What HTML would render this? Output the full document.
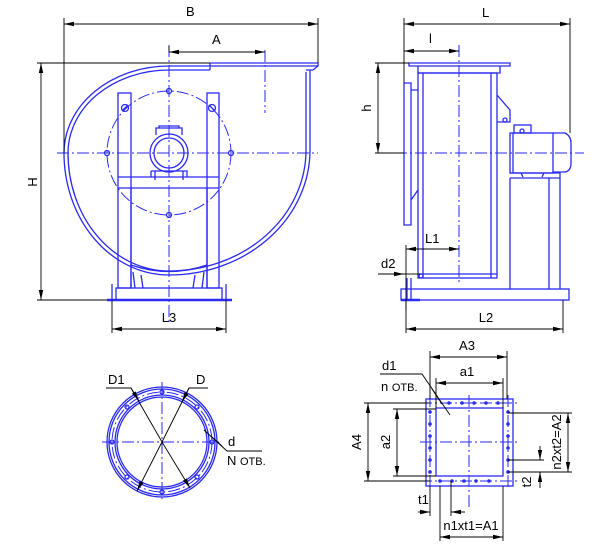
<!DOCTYPE html>
<html><head><meta charset="utf-8"><style>
html,body{margin:0;padding:0;background:#fff;}
svg{display:block;}
text{font-family:"Liberation Sans","DejaVu Sans",sans-serif;font-size:13px;fill:#000;}
.b{stroke:#2a2af0;fill:none;stroke-width:1.3;}
.bt{stroke:#2a2af0;fill:none;stroke-width:2.6;}
.c{stroke:#2a2af0;fill:none;stroke-width:1;stroke-dasharray:12 3 2 3;}
.k{stroke:#000;fill:none;stroke-width:0.9;}
.d{fill:#2a2af0;}
</style></head><body>
<svg width="611" height="551" viewBox="0 0 611 551" xmlns="http://www.w3.org/2000/svg">
<defs>
<marker id="a" viewBox="0 0 10 6" refX="10" refY="3" markerWidth="10" markerHeight="6" orient="auto-start-reverse" markerUnits="userSpaceOnUse"><path d="M0,0.8 L10,3 L0,5.2z" fill="#000"/></marker>
</defs>

<!-- ========== FRONT VIEW ========== -->
<path class="b" d="M210,66 L169,66 A105,87 0 0 0 64,153 A105,122 0 0 0 169,275 A141,125 0 0 0 310,150 L310,70"/>
<path class="b" d="M210,70 L169,70 A101,83 0 0 0 68,153 A101,118 0 0 0 169,271 A137,121 0 0 0 306,150 L306,72"/>
<path class="b" d="M210,63 L318,63 L318,66 L313,70 L306,70 M210,63 L210,70 M210,66 L318,66"/>
<circle class="c" cx="169" cy="153" r="62"/>
<circle class="b" cx="169" cy="91" r="2.5"/><circle class="b" cx="107" cy="153" r="2.5"/><circle class="b" cx="231" cy="153" r="2.5"/><circle class="b" cx="169" cy="215" r="2.5"/>
<rect x="118" y="93" width="13" height="195" fill="#fff" class="b"/>
<rect x="207" y="93" width="12" height="195" fill="#fff" class="b"/>
<circle class="b" cx="125" cy="108" r="3.5"/><path class="b" d="M122,111 L128,105"/>
<circle class="b" cx="212" cy="108" r="3.5"/><path class="b" d="M209,105 L215,111"/>
<path class="b" d="M118,177 L219,177 M118,188 L219,188 M131,188 L131,288 M207,188 L207,288"/>
<path class="b" d="M131,265 Q169,278 207,265 M133,272 L135,288 M141,275 L143,288 M195,275 L193,288 M204,272 L202,288"/>
<circle class="b" cx="169" cy="153" r="19"/><circle class="b" cx="169" cy="153" r="15"/>
<path class="b" d="M156,135 L156,128 L182,128 L182,135 M159,128 L159,126 L179,126 L179,128"/>
<path class="b" d="M151,171 L187,171 L187,177 M151,171 L151,177 M155,171 L155,180 M183,171 L183,180"/>
<rect x="116" y="288" width="106" height="12" fill="#fff" class="b"/>
<path class="bt" d="M107,300 L232,300"/>
<path class="b" d="M112,284 L112,300 M226,284 L226,300"/>
<path class="c" d="M169,45 L169,322 M57,153 L318,153 M265,50 L265,113"/>
<path class="k" d="M64,18 L64,153 M318,18 L318,63 M169,46 L169,52"/>
<path class="k" marker-start="url(#a)" marker-end="url(#a)" d="M64,24 L318,24"/>
<text x="186" y="16">B</text>
<path class="k" marker-start="url(#a)" marker-end="url(#a)" d="M169,52 L265,52"/>
<text x="212" y="44">A</text>
<path class="k" d="M37,63 L210,63 M37,300 L107,300"/>
<path class="k" marker-start="url(#a)" marker-end="url(#a)" d="M41,63 L41,300"/>
<text transform="translate(37,182) rotate(-90)" text-anchor="middle">H</text>
<path class="k" d="M112,300 L112,333 M226,300 L226,333"/>
<path class="k" marker-start="url(#a)" marker-end="url(#a)" d="M112,329 L226,329"/>
<text x="169" y="322" text-anchor="middle">L3</text>

<!-- ========== SIDE VIEW ========== -->
<path class="b" d="M409,63 L510,63 L510,66 L409,66 Z"/>
<path class="b" d="M418,66 L418,73 L500,73 L500,66"/>
<rect x="418" y="73" width="79" height="205" class="b"/>
<path class="b" d="M423,73 L423,278 M491,73 L491,278"/>
<path class="b" d="M404,83 L411,83 L411,225 L404,225 Z M411,90 L418,90 M411,200 L418,190"/>
<path class="b" d="M497,95 L510,110 L510,122 L497,122"/>
<circle class="b" cx="505" cy="120" r="2"/>
<rect x="510" y="133" width="43" height="40" class="b"/>
<path class="b" d="M513,133 L513,173"/>
<path class="b" d="M553,133 L565,133 Q571,136 571,143 L571,163 Q571,171 565,172 L553,172"/>
<rect x="514" y="125" width="17" height="8" class="b"/>
<circle class="b" cx="522" cy="131" r="2"/>
<path class="b" d="M510,173 L560,173 L560,178 L510,178 M521,173 L523,177 M544,173 L542,177"/>
<path class="b" d="M510,178 L510,289 M560,178 L560,289 M549,178 L549,289"/>
<rect x="401" y="289" width="168" height="11" class="b"/>
<path class="bt" d="M401,300 L420,300"/>
<path class="b" d="M407,278 L407,300 M411,278 L411,300 M418,274 L497,274"/>
<circle class="b" cx="421" cy="276" r="2"/>
<path class="c" d="M459,45 L459,285 M375,153 L584,153"/>
<path class="k" d="M404,18 L404,83 M570,18 L570,133"/>
<path class="k" marker-start="url(#a)" marker-end="url(#a)" d="M404,24 L570,24"/>
<text x="482" y="17">L</text>
<path class="k" marker-start="url(#a)" marker-end="url(#a)" d="M404,51 L459,51"/>
<text x="429" y="43">l</text>
<path class="k" d="M375,63 L409,63 M375,153 L404,153"/>
<path class="k" marker-start="url(#a)" marker-end="url(#a)" d="M378,63 L378,153"/>
<text transform="translate(371,108) rotate(-90)" text-anchor="middle">h</text>
<path class="k" d="M406,245 L406,310"/>
<path class="k" marker-start="url(#a)" marker-end="url(#a)" d="M406,249 L459,249"/>
<text x="425" y="243">L1</text>
<path class="k" marker-end="url(#a)" d="M378,274 L404,274"/>
<path class="k" d="M404,274 L420,274"/>
<text x="381" y="268">d2</text>
<path class="k" d="M406,300 L406,333 M563,300 L563,333"/>
<path class="k" marker-start="url(#a)" marker-end="url(#a)" d="M406,329 L563,329"/>
<text x="486" y="322" text-anchor="middle">L2</text>

<!-- ========== ROUND FLANGE ========== -->
<circle class="b" cx="162" cy="442" r="55"/>
<circle class="b" cx="162" cy="442" r="53"/>
<circle class="c" cx="162" cy="442" r="50"/>
<circle class="b" cx="162" cy="442" r="47"/>
<circle class="b" cx="162" cy="442" r="45"/>
<g class="b">
<circle cx="162" cy="392" r="2"/><circle cx="162" cy="492" r="2"/><circle cx="112" cy="442" r="2"/><circle cx="212" cy="442" r="2"/>
<circle cx="197" cy="407" r="2"/><circle cx="127" cy="407" r="2"/><circle cx="197" cy="477" r="2"/><circle cx="127" cy="477" r="2"/>
</g>
<path class="c" d="M102,442 L222,442 M162,382 L162,502"/>
<path class="k" d="M106,388 L131,388 L162,442"/>
<path class="k" marker-end="url(#a)" d="M162,442 L190,488"/>
<path class="k" marker-end="url(#a)" d="M131,388 L139,401"/>
<path class="k" d="M208,388 L189,388 L162,442"/>
<path class="k" marker-end="url(#a)" d="M162,442 L137,491"/>
<path class="k" marker-end="url(#a)" d="M189,388 L182,402"/>
<text x="108" y="384">D1</text>
<text x="196" y="384">D</text>
<path class="k" d="M204,430 L227,451 L262,451"/>
<path class="k" stroke-width="2" d="M212,437 L222,446"/>
<text x="228" y="446">d</text>
<text x="227" y="465">N <tspan font-size="11">ОТВ.</tspan></text>

<!-- ========== SQUARE FLANGE ========== -->
<rect x="426" y="399" width="87" height="87" class="b"/>
<rect x="436" y="408" width="67" height="68" class="b"/>
<path class="c" d="M420,403 L520,403 M420,481 L520,481 M430,395 L430,490 M508,395 L508,490 M420,442 L520,442 M469,395 L469,508"/>
<g class="d">
<circle cx="449" cy="403" r="1.8"/><circle cx="462" cy="403" r="1.8"/><circle cx="474" cy="403" r="1.8"/><circle cx="486" cy="403" r="1.8"/><circle cx="498" cy="403" r="1.8"/>
<circle cx="440" cy="481" r="1.8"/><circle cx="452" cy="481" r="1.8"/><circle cx="464" cy="481" r="1.8"/><circle cx="476" cy="481" r="1.8"/><circle cx="489" cy="481" r="1.8"/>
<circle cx="430" cy="412" r="1.8"/><circle cx="430" cy="424" r="1.8"/><circle cx="430" cy="436" r="1.8"/><circle cx="430" cy="448" r="1.8"/><circle cx="430" cy="460" r="1.8"/><circle cx="430" cy="472" r="1.8"/>
<circle cx="508" cy="412" r="1.8"/><circle cx="508" cy="424" r="1.8"/><circle cx="508" cy="436" r="1.8"/><circle cx="508" cy="448" r="1.8"/><circle cx="508" cy="460" r="1.8"/><circle cx="508" cy="472" r="1.8"/>
</g>
<path class="k" d="M430,351 L430,399 M507,351 L507,399 M436,378 L436,408 M503,378 L503,408"/>
<path class="k" marker-start="url(#a)" marker-end="url(#a)" d="M430,357 L507,357"/>
<text x="467" y="350" text-anchor="middle">A3</text>
<path class="k" marker-start="url(#a)" marker-end="url(#a)" d="M436,383 L503,383"/>
<text x="467" y="376" text-anchor="middle">a1</text>
<path class="k" d="M380,374 L422,374 L450,415"/>
<path class="k" stroke-width="2" d="M432,389 L442,404"/>
<text x="382" y="370">d1</text>
<text x="381" y="391">n <tspan font-size="11">ОТВ.</tspan></text>
<path class="k" d="M364,403 L430,403 M364,481 L430,481"/>
<path class="k" marker-start="url(#a)" marker-end="url(#a)" d="M368,403 L368,481"/>
<text transform="translate(361,442) rotate(-90)" text-anchor="middle">A4</text>
<path class="k" d="M393,409 L436,409 M393,476 L436,476"/>
<path class="k" marker-start="url(#a)" marker-end="url(#a)" d="M397,409 L397,476"/>
<text transform="translate(390,442) rotate(-90)" text-anchor="middle">a2</text>
<path class="k" d="M508,413 L572,413 M508,472 L572,472"/>
<path class="k" marker-start="url(#a)" marker-end="url(#a)" d="M568,413 L568,472"/>
<text transform="translate(561,442) rotate(-90)" text-anchor="middle">n2xt2=A2</text>
<path class="k" d="M508,460 L544,460"/>
<path class="k" marker-end="url(#a)" d="M540,446 L540,460"/>
<path class="k" marker-end="url(#a)" d="M540,488 L540,472"/>
<text transform="translate(531,482) rotate(-90)" text-anchor="middle">t2</text>
<path class="k" d="M430,486 L430,516 M451,481 L451,516"/>
<path class="k" marker-end="url(#a)" d="M418,512 L430,512"/>
<path class="k" marker-end="url(#a)" d="M465,512 L451,512"/>
<text x="418" y="504">t1</text>
<path class="k" d="M440,486 L440,541 M503,486 L503,541"/>
<path class="k" marker-start="url(#a)" marker-end="url(#a)" d="M440,537 L503,537"/>
<text x="471" y="530" text-anchor="middle">n1xt1=A1</text>
</svg>
</body></html>
